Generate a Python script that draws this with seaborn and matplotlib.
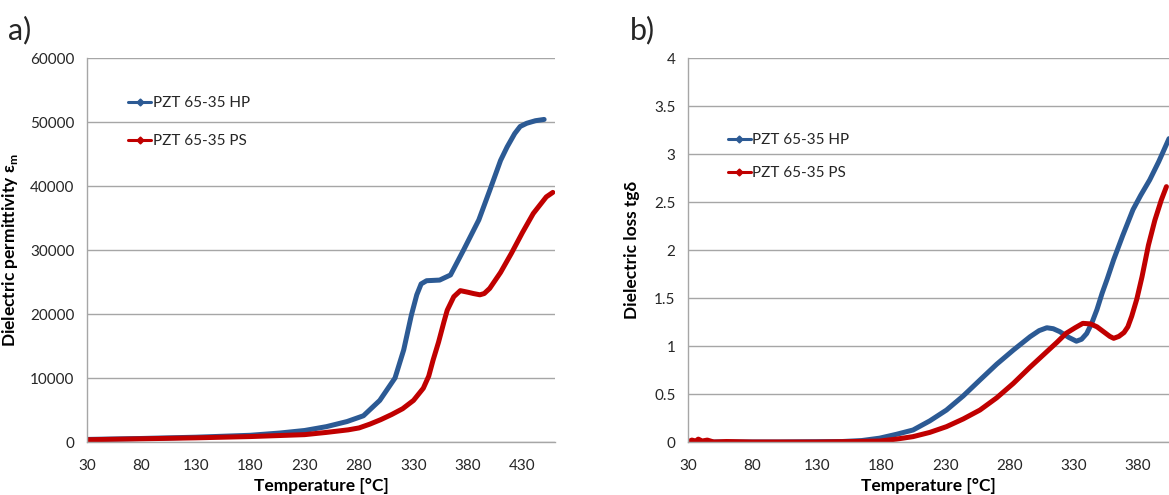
import pandas as pd
import seaborn as sns
import matplotlib.pyplot as plt
from matplotlib.lines import Line2D

# a) dielectric permittivity vs temperature
temp_hp_a = [30, 80, 130, 180, 207, 230, 250, 269, 284, 299, 313, 321, 328, 333, 337, 342,
             354, 364, 376, 390, 400, 410, 416, 423, 428, 434, 442, 450]
perm_hp = [400, 550, 750, 1050, 1400, 1800, 2400, 3200, 4100, 6500, 10000, 14400, 19800,
           23000, 24700, 25200, 25300, 26100, 30000, 34700, 39300, 44000, 46100, 48200, 49300,
           49800, 50200, 50400]
temp_ps_a = [30, 80, 130, 180, 230, 250, 270, 280, 290, 300, 310, 320, 330, 339, 344, 348,
             353, 358, 361, 367, 373, 380, 385, 391, 395, 400, 410, 420, 430, 440, 452, 458]
perm_ps = [350, 500, 650, 850, 1150, 1500, 1900, 2200, 2800, 3500, 4300, 5200, 6500, 8400,
           10300, 12800, 15600, 18800, 20600, 22700, 23650, 23400, 23200, 23000, 23200, 24000,
           26500, 29500, 32700, 35700, 38300, 39000]

# b) dielectric loss vs temperature
temp_hp_b = [30, 100, 150, 165, 179, 192, 205, 218, 231, 244, 257, 270, 283, 296, 303, 309,
             314, 319, 326, 332, 336, 340, 344, 348, 352, 356, 361, 368, 376, 382, 389, 396, 404]
loss_hp = [0.0, 0.0, 0.005, 0.015, 0.04, 0.08, 0.125, 0.22, 0.333, 0.48, 0.646, 0.81, 0.958,
           1.097, 1.16, 1.19, 1.18, 1.15, 1.09, 1.05, 1.07, 1.13, 1.24, 1.38, 1.55, 1.70,
           1.90, 2.15, 2.42, 2.57, 2.73, 2.92, 3.16]
temp_ps_b = [30, 33, 36, 38, 41, 45, 50, 60, 80, 130, 160, 179, 192, 205, 218, 231, 244, 257,
             270, 283, 296, 309, 317, 324, 331, 337, 343, 348, 354, 358, 361, 365, 369, 372,
             375, 379, 383, 388, 393, 398, 402]
loss_ps = [0.0, 0.02, 0.01, 0.03, 0.01, 0.02, 0.0, 0.005, 0.0, 0.0, 0.005, 0.01, 0.03, 0.056,
           0.10, 0.16, 0.24, 0.333, 0.46, 0.611, 0.78, 0.941, 1.04, 1.132, 1.19, 1.236, 1.23,
           1.20, 1.14, 1.10, 1.08, 1.10, 1.14, 1.20, 1.31, 1.49, 1.72, 2.05, 2.31, 2.52, 2.66]

series_names = ["PZT 65-35 HP", "PZT 65-35 PS"]
colors = ["#2C5A94", "#C00000"]

sns.set_theme(style="white")
plt.rcParams['font.family'] = ['Lato', 'DejaVu Sans']

GRID = "#a6a6a6"
TXT = "#262626"


def style_axis(ax, xmax, yticks, yticklabels, ylabel, ylabel_x):
    ax.set_xlim(30, xmax)
    ax.set_ylim(yticks[0], yticks[-1])
    xt = list(range(30, int(xmax) + 1, 10))
    ax.set_xticks(xt)
    ax.set_xticklabels([str(t) if (t - 30) % 50 == 0 else "" for t in xt])
    ax.set_yticks(yticks)
    ax.set_yticklabels(yticklabels)
    ax.grid(axis="y", color=GRID, linewidth=1)
    ax.set_axisbelow(True)
    for s in ["top", "right"]:
        ax.spines[s].set_visible(False)
    for s in ["left", "bottom"]:
        ax.spines[s].set_color(GRID)
        ax.spines[s].set_linewidth(1)
    ax.tick_params(axis="both", direction="out", length=5, width=1, color=GRID,
                   labelsize=11, labelcolor=TXT, pad=4)
    ax.tick_params(axis="x", pad=7)
    ax.set_xlabel("Temperature [°C]", fontsize=12.5, fontweight="bold", color="black")
    ax.xaxis.set_label_coords(0.5, -0.093)
    ax.set_ylabel(ylabel, fontsize=12.5, fontweight="bold", color="black")
    ax.yaxis.set_label_coords(ylabel_x, 0.5)


def add_legend(ax, anchor, spacing):
    handles = [Line2D([0], [0], color=c, lw=2.2, marker="D", markersize=3.5)
               for c in colors]
    ax.legend(handles, series_names, loc="upper left", bbox_to_anchor=anchor,
              frameon=False, fontsize=11, handlelength=1.5, handletextpad=0.1,
              labelspacing=spacing, borderpad=0, borderaxespad=0)


fig = plt.figure(figsize=(11.69, 4.95), dpi=100)
ax_a = fig.add_axes([87 / 1169, 53 / 495, 468 / 1169, 384 / 495])
ax_b = fig.add_axes([688 / 1169, 53 / 495, 481 / 1169, 384 / 495])

df_a = pd.concat([
    pd.DataFrame({"T": temp_hp_a, "v": perm_hp, "s": series_names[0]}),
    pd.DataFrame({"T": temp_ps_a, "v": perm_ps, "s": series_names[1]}),
])
df_b = pd.concat([
    pd.DataFrame({"T": temp_hp_b, "v": loss_hp, "s": series_names[0]}),
    pd.DataFrame({"T": temp_ps_b, "v": loss_ps, "s": series_names[1]}),
])

for ax, df in [(ax_a, df_a), (ax_b, df_b)]:
    sns.lineplot(data=df, x="T", y="v", hue="s", palette=colors, hue_order=series_names,
                 estimator=None, sort=False, linewidth=3.6, legend=False, ax=ax)

style_axis(ax_a, 460, list(range(0, 60001, 10000)),
           [str(v) for v in range(0, 60001, 10000)],
           r"Dielectric permittivity ε$_\mathregular{m}$", -0.143)
style_axis(ax_b, 404, [0, 0.5, 1, 1.5, 2, 2.5, 3, 3.5, 4],
           ["0", "0.5", "1", "1.5", "2", "2.5", "3", "3.5", "4"],
           "Dielectric loss tgδ", -0.1)

add_legend(ax_a, (0.088, 0.90), 1.55)
add_legend(ax_b, (0.083, 0.805), 1.25)

fig.text(8 / 1169, 1 - 30 / 495, "a)", fontsize=22, va="center", ha="left")
fig.text(630 / 1169, 1 - 30 / 495, "b)", fontsize=22, va="center", ha="left")

fig.savefig("out.png", dpi=100)
